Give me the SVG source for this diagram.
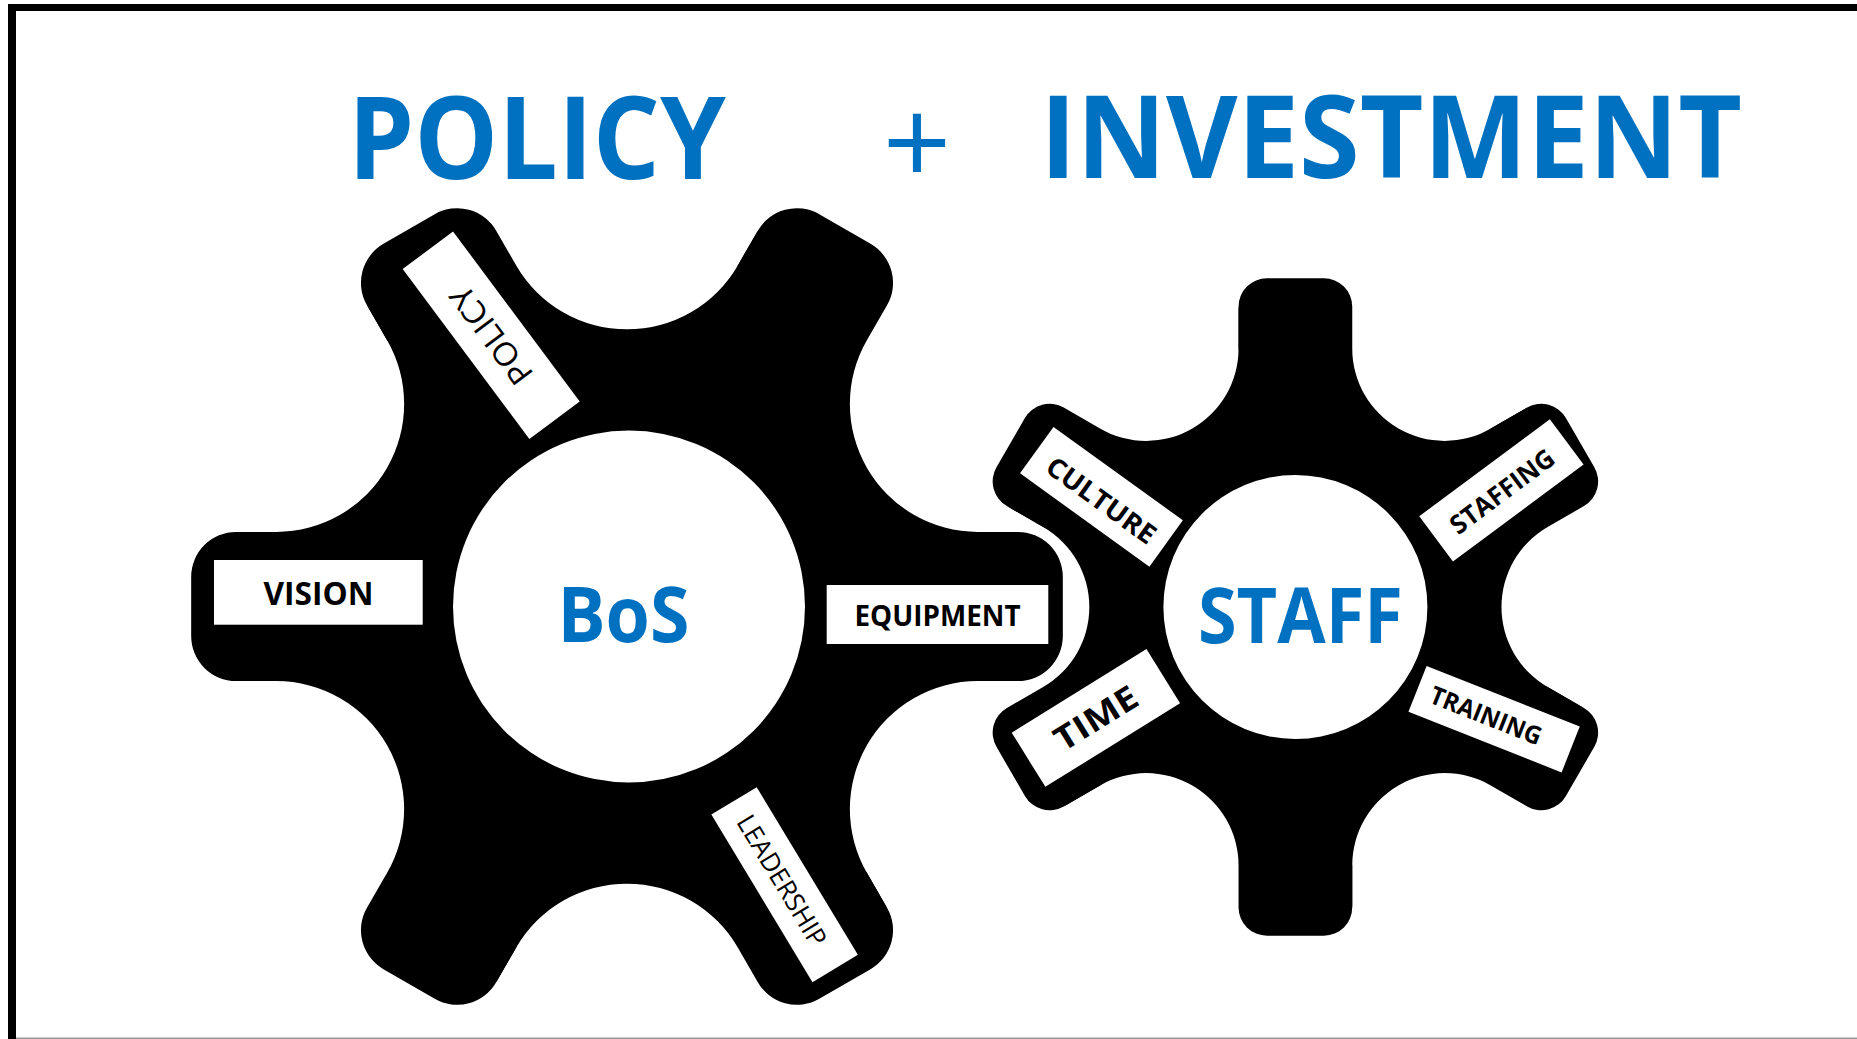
<svg xmlns="http://www.w3.org/2000/svg" width="1857" height="1039" viewBox="0 0 1857 1039">
<style>
  .t{font-family:"Open Sans","Liberation Sans",sans-serif;}
  .blue{fill:#0070C0;font-weight:700}
  .plus{fill:#0070C0;font-weight:400}
  .lb{fill:#000;font-weight:700}
  .lr{fill:#000;font-weight:400}
  .ls{fill:#000;font-weight:700}
  .box{fill:#fff}
  .gear{fill:#000}
  .hole{fill:#fff}
</style>
<defs>
  <path id="bigPiece" d="M0,0 L296.2,-63 L330,-63 A38,38 0 0 1 368,-25 L368,25 A38,38 0 0 1 330,63 L296.2,63 A108,108 0 0 0 202.66,225.02 L219.56,254.29 Z"/>
  <path id="smallPiece" d="M0,0 L218.2,-48 L253.6,-48 A24,24 0 0 1 277.6,-24 L277.6,24 A24,24 0 0 1 253.6,48 L218.2,48 A78,78 0 0 0 150.67,164.96 L168.37,195.62 Z"/>
</defs>
<rect x="0" y="0" width="1857" height="1039" fill="#fff"/>
<g id="frame">
  <rect x="8" y="4" width="1849" height="7" fill="#000"/>
  <rect x="8" y="4" width="8" height="1035" fill="#000"/>
  <rect x="16" y="1037.5" width="1841" height="1.5" fill="#999"/>
</g>
<g id="title">
  <text class="t blue" x="537" y="179" font-size="114" text-anchor="middle" textLength="378" lengthAdjust="spacingAndGlyphs">POLICY</text>
  <text class="t plus" x="917" y="186" font-size="120" text-anchor="middle">+</text>
  <text class="t blue" x="1391" y="178" font-size="114" text-anchor="middle" textLength="702" lengthAdjust="spacingAndGlyphs">INVESTMENT</text>
</g>
<g id="gear-staff">
  <g class="gear" transform="translate(1295.4 607) scale(1.18431) rotate(30)">
    <use href="#smallPiece"/>
    <use href="#smallPiece" transform="rotate(60)"/>
    <use href="#smallPiece" transform="rotate(120)"/>
    <use href="#smallPiece" transform="rotate(180)"/>
    <use href="#smallPiece" transform="rotate(240)"/>
    <use href="#smallPiece" transform="rotate(300)"/>
  </g>
  <circle class="hole" cx="1295.4" cy="607" r="132"/>
  <text class="t blue" x="1300.4" y="643.3" font-size="77" text-anchor="middle" textLength="205" lengthAdjust="spacingAndGlyphs">STAFF</text>
</g>
<g id="gear-bos">
  <g class="gear" transform="translate(627 606.5) scale(1.18431)">
    <use href="#bigPiece"/>
    <use href="#bigPiece" transform="rotate(60)"/>
    <use href="#bigPiece" transform="rotate(120)"/>
    <use href="#bigPiece" transform="rotate(180)"/>
    <use href="#bigPiece" transform="rotate(240)"/>
    <use href="#bigPiece" transform="rotate(300)"/>
  </g>
  <circle class="hole" cx="629" cy="606.5" r="176"/>
  <text class="t blue" x="623.4" y="641.7" font-size="77" text-anchor="middle" textLength="132" lengthAdjust="spacingAndGlyphs">BoS</text>
</g>
<g id="label-vision">
  <rect class="box" x="214" y="560" width="208.7" height="64.7"/>
  <text class="t lb" x="318.4" y="605" font-size="32.6" text-anchor="middle" textLength="110" lengthAdjust="spacingAndGlyphs">VISION</text>
</g>
<g id="label-equipment">
  <rect class="box" x="826.7" y="585" width="221.6" height="59"/>
  <text class="t lb" x="937.5" y="625.7" font-size="29" text-anchor="middle" textLength="166" lengthAdjust="spacingAndGlyphs">EQUIPMENT</text>
</g>
<g id="label-policy" transform="translate(491.2 335.25) rotate(53.3)">
  <rect class="box" x="-106" y="-31.4" width="212" height="62.8"/>
  <text class="t lr" transform="rotate(180)" x="0" y="11.4" font-size="32" text-anchor="middle" textLength="114" lengthAdjust="spacingAndGlyphs">POLICY</text>
</g>
<g id="label-leadership" transform="translate(784.6 884.7) rotate(58.9)">
  <rect class="box" x="-97.9" y="-26.5" width="195.8" height="53"/>
  <text class="t lr" x="-5" y="9.3" font-size="26" text-anchor="middle" textLength="148" lengthAdjust="spacingAndGlyphs">LEADERSHIP</text>
</g>
<g id="label-culture" transform="translate(1101.45 496.8) rotate(35.8)">
  <rect class="box" x="-79.75" y="-28.6" width="159.5" height="57.2"/>
  <text class="t ls" x="2" y="12.6" font-size="27" text-anchor="middle" textLength="128" lengthAdjust="spacingAndGlyphs">CULTURE</text>
</g>
<g id="label-staffing" transform="translate(1501.4 490.4) rotate(-36.6)">
  <rect class="box" x="-81.35" y="-28.25" width="162.7" height="56.5"/>
  <text class="t ls" x="0" y="10.5" font-size="26" text-anchor="middle" textLength="123" lengthAdjust="spacingAndGlyphs">STAFFING</text>
</g>
<g id="label-time" transform="translate(1095.9 717.95) rotate(-31.85)">
  <rect class="box" x="-79.3" y="-31.85" width="158.6" height="63.7"/>
  <text class="t lb" x="0" y="11.8" font-size="33" text-anchor="middle" textLength="92" lengthAdjust="spacingAndGlyphs">TIME</text>
</g>
<g id="label-training" transform="translate(1494.1 719.15) rotate(21.6)">
  <rect class="box" x="-82.35" y="-24.65" width="164.7" height="49.3"/>
  <text class="t ls" x="-8.8" y="8.5" font-size="25" text-anchor="middle" textLength="118" lengthAdjust="spacingAndGlyphs">TRAINING</text>
</g>
<g id="connectors"/>
</svg>
